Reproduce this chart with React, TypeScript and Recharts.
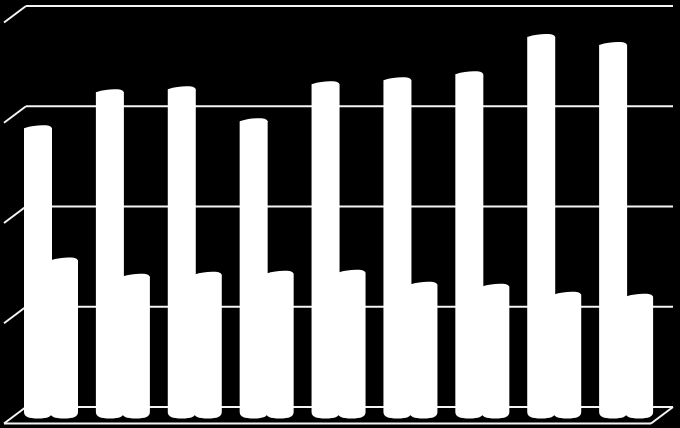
import { BarChart, Bar, XAxis, YAxis, CartesianGrid } from "recharts";

const CATEGORIES = ["1", "2", "3", "4", "5", "6", "7", "8", "9"];
const SERIES_A = [284, 320, 323, 291, 328, 332, 338, 375, 367];
const SERIES_B = [152, 136, 138, 139, 140, 128, 126, 118, 116];
const Y_TICKS = [0, 100, 200, 300, 400];

const data = CATEGORIES.map((name, i) => ({ name, a: SERIES_A[i], b: SERIES_B[i] }));

const INK = "#f4f4f4";
// 3d wall: the floor comes forward by this much
const DEPTH_X = 22;
const DEPTH_Y = 16.5;
// bars stand half way into the floor
const BAR_DX = -11;
const BAR_DY = 7;

function Cylinder(props: any) {
  const { x, y, width, height } = props;
  const left = x + BAR_DX;
  const right = left + width;
  const peak = y + BAR_DY - 4;
  const base = y + height + BAR_DY;
  const w = width;
  // lit cap leans right, bottom lobe is flat
  const d = [
    `M${left},${peak + 3}`,
    `C${left + w * 0.25},${peak + 0.8} ${left + w * 0.45},${peak} ${left + w * 0.65},${peak}`,
    `C${left + w * 0.85},${peak} ${right - 1},${peak + 0.5} ${right},${peak + 3}`,
    `L${right},${base - 2}`,
    `C${right},${base + 2.5} ${right - w * 0.15},${base + 4.5} ${left + w / 2},${base + 4.5}`,
    `C${left + w * 0.15},${base + 4.5} ${left},${base + 2.5} ${left},${base - 2}`,
    "Z",
  ].join(" ");
  return <path d={d} fill="#fff" stroke="none" />;
}

function WallLine(props: any) {
  const { x1, x2, y1, index } = props;
  const isFloor = index === 0;
  const frontY = y1 + DEPTH_Y;
  return (
    <g key={`wall-${y1}`} fill="none" stroke={INK} strokeWidth={2}>
      <line x1={x1 - DEPTH_X} y1={frontY} x2={x1} y2={y1} />
      <line x1={x1} y1={y1} x2={x2} y2={y1} />
      {isFloor && <line x1={x1 - DEPTH_X} y1={frontY} x2={x2 - DEPTH_X} y2={frontY} />}
      {isFloor && <line x1={x2 - DEPTH_X} y1={frontY} x2={x2} y2={y1} />}
    </g>
  );
}

export default function App() {
  return (
    <div style={{ width: 680, height: 428, background: "#000", position: "absolute", left: 0, top: 0 }}>
      <BarChart
        width={680}
        height={428}
        data={data}
        margin={{ top: 6, right: 7, bottom: 21, left: 26 }}
        barSize={28}
        barGap={-2}
      >
        <CartesianGrid vertical={false} horizontal={WallLine} />
        <XAxis dataKey="name" hide />
        <YAxis hide domain={[0, 400]} ticks={Y_TICKS} />
        <Bar dataKey="a" shape={Cylinder} isAnimationActive={false} />
        <Bar dataKey="b" shape={Cylinder} isAnimationActive={false} />
      </BarChart>
    </div>
  );
}
